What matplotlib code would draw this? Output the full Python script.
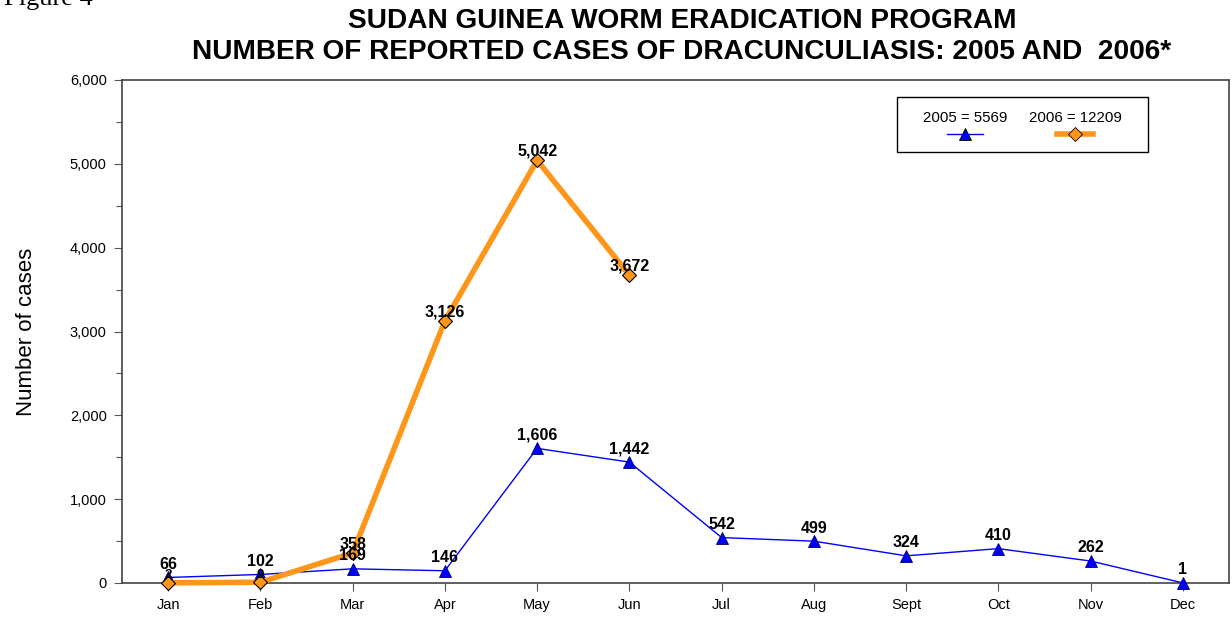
import numpy as np
import matplotlib
matplotlib.use('Agg')
import matplotlib.pyplot as plt
from matplotlib.lines import Line2D
from matplotlib.patches import Rectangle
from matplotlib.ticker import FuncFormatter, MultipleLocator

# monthly reported cases, Sudan GWEP
months = ['Jan', 'Feb', 'Mar', 'Apr', 'May', 'Jun', 'Jul', 'Aug', 'Sept', 'Oct', 'Nov', 'Dec']
cases_2005 = [66, 102, 169, 146, 1606, 1442, 542, 499, 324, 410, 262, 1]
cases_2006 = [2, 9, 358, 3126, 5042, 3672]
label_2005 = '2005 = 5569'
label_2006 = '2006 = 12209'

plt.rcParams['font.family'] = ['Liberation Sans', 'DejaVu Sans']

fig = plt.figure(figsize=(12.32, 6.18), dpi=100)
ax = fig.add_axes([122/1232, 1 - 583/618, (1229 - 122)/1232, (583 - 80)/618])

blue = '#0000FF'
orange = '#FF9619'
x05 = np.arange(len(cases_2005))
x06 = np.arange(len(cases_2006))

ax.plot(x05, cases_2005, color=blue, lw=1, marker='^', ms=8, mfc=blue,
        mec='#000060', mew=0.6, clip_on=False, zorder=3)
ax.plot(x06, cases_2006, color=orange, lw=4, marker='D', ms=7, mfc=orange,
        mec='black', mew=0.8, clip_on=False, zorder=4)

# data labels
for x, v in zip(x05, cases_2005):
    ax.annotate(f'{v:,}', (x, v), xytext=(0, 4), textcoords='offset points',
                ha='center', va='bottom', fontsize=11.5, fontweight='bold', zorder=5)
for x, v in zip(x06, cases_2006):
    ax.annotate(f'{v:,}', (x, v), xytext=(0, 1), textcoords='offset points',
                ha='center', va='bottom', fontsize=11.5 if v > 100 else 9.5,
                fontweight='bold', zorder=5)

ax.set_xlim(-0.5, 11.5)
ax.set_ylim(0, 6000)
ax.set_xticks(x05)
ax.set_xticklabels(months)
ax.yaxis.set_major_locator(MultipleLocator(1000))
ax.yaxis.set_minor_locator(MultipleLocator(500))
ax.yaxis.set_major_formatter(FuncFormatter(lambda v, p: f'{int(v):,}'))
ax.tick_params(axis='both', direction='out', length=6, width=0.8, color='#555555',
               labelsize=10.5, pad=5)
ax.tick_params(axis='y', which='minor', direction='out', length=4, width=0.8, color='#555555')
for s in ax.spines.values():
    s.set_color('#444444')
    s.set_linewidth(1.2)
ax.set_ylabel('Number of cases', fontsize=16, labelpad=24)

# legend: text above handle, drawn in axes fraction
lx0, ly0 = (897 - 122)/1107, (583 - 152)/503
lw_, lh_ = (1148 - 897)/1107, (152 - 97)/503
ax.add_patch(Rectangle((lx0, ly0), lw_, lh_, transform=ax.transAxes, fill=False,
                       ec='black', lw=1, zorder=6))
for cx, lab, col, lw, mk, ms in [((965 - 122)/1107, label_2005, blue, 1, '^', 8),
                                 ((1075 - 122)/1107, label_2006, orange, 4, 'D', 7)]:
    ax.text(cx, (583 - 118)/503, lab, transform=ax.transAxes, ha='center', va='center',
            fontsize=10.8, zorder=7)
    ax.add_line(Line2D([cx - 18/1107, cx + 18/1107], [(583 - 134)/503]*2,
                       transform=ax.transAxes, color=col, lw=lw, zorder=7))
    ax.add_line(Line2D([cx], [(583 - 134)/503], transform=ax.transAxes, marker=mk,
                       ms=ms, mfc=col, mec='black', mew=0.6, ls='none', zorder=8))

fig.text(682/1232, 1 - 21/618, 'SUDAN GUINEA WORM ERADICATION PROGRAM', ha='center',
         va='center', fontsize=20.2, fontweight='bold')
fig.text(682/1232, 1 - 52/618, 'NUMBER OF REPORTED CASES OF DRACUNCULIASIS: 2005 AND  2006*',
         ha='center', va='center', fontsize=20.2, fontweight='bold')
fig.text(4/1232, 1 - 5/618, 'Figure 4', ha='left', va='baseline', fontsize=19,
         family=['Liberation Serif', 'DejaVu Serif'])

fig.savefig('out.png', dpi=100)
